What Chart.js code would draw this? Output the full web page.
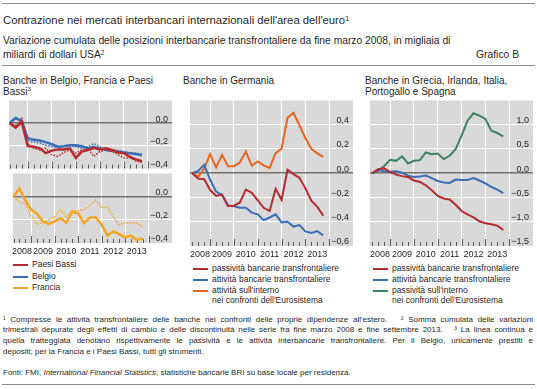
<!DOCTYPE html>
<html lang="it">
<head>
<meta charset="utf-8">
<title>Grafico B</title>
<script src="https://cdn.jsdelivr.net/npm/chart.js@4.4.1/dist/chart.umd.min.js"></script>
<style>
  body { margin: 0; width: 537px; height: 389px; position: relative; overflow: hidden; background: #fff;
         font-family: "Liberation Sans", Arial, sans-serif; color: #1f1f1f; }
  .t { position: absolute; white-space: nowrap; }
  .rule { position: absolute; left: 2px; width: 533px; height: 0; border-top: 1.5px solid #8c8c8c; }
  .sup { font-size: 62%; position: relative; top: -0.5em; }
  canvas { position: absolute; }
  .leg { position: absolute; font-size: 8.5px; line-height: 9.3px; white-space: nowrap; }
  .leg i { position: absolute; left: -19px; top: 4px; width: 15px; height: 2px; }
  .fn { position: absolute; left: 3px; width: 530px; font-size: 8px; line-height: 10.8px; text-align: justify; text-align-last: justify; }
</style>
</head>
<body>
<div class="rule" style="top:3px"></div>
<div class="t" style="left:3px;top:13px;font-size:11.3px;line-height:14px">Contrazione nei mercati interbancari internazionali dell'area dell'euro<span class="sup">1</span></div>
<div class="t" style="left:3px;top:34px;font-size:10.3px;line-height:14px">Variazione cumulata delle posizioni interbancarie transfrontaliere da fine marzo 2008, in migliaia di<br>miliardi di dollari USA<span class="sup">2</span></div>
<div class="t" style="right:18px;top:48px;font-size:10.3px;line-height:14px">Grafico B</div>
<div class="rule" style="top:65px"></div>

<div class="t" style="left:3px;top:74.5px;font-size:10px;line-height:11px">Banche in Belgio, Francia e Paesi<br>Bassi<span class="sup">3</span></div>
<div class="t" style="left:183px;top:74.5px;font-size:10px;line-height:11px">Banche in Germania</div>
<div class="t" style="left:365px;top:74.5px;font-size:10px;line-height:11px">Banche in Grecia, Irlanda, Italia,<br>Portogallo e Spagna</div>

<canvas id="belNl" width="163" height="71" style="left:9px;top:99px"></canvas>
<canvas id="fra" width="163" height="86" style="left:9px;top:172px"></canvas>
<canvas id="ger" width="166" height="162" style="left:187px;top:99px"></canvas>
<canvas id="giips" width="166" height="162" style="left:367px;top:99px"></canvas>

<div class="leg" style="left:32px;top:260.4px"><i style="background:#b32b2f;height:1.5px"></i>Paesi Bassi</div>
<div class="leg" style="left:32px;top:271.7px"><i style="background:#3a6db5"></i>Belgio</div>
<div class="leg" style="left:32px;top:282.9px"><i style="background:#f2a623"></i>Francia</div>

<div class="leg" style="left:212px;top:263.7px"><i style="background:#b32b2f"></i>passività bancarie transfrontaliere</div>
<div class="leg" style="left:212px;top:275px"><i style="background:#3a6db5"></i>attività bancarie transfrontaliere</div>
<div class="leg" style="left:212px;top:286.4px"><i style="background:#e8651d"></i>attività sull'interno<br>nei confronti dell'Eurosistema</div>

<div class="leg" style="left:392px;top:263.7px"><i style="background:#b32b2f"></i>passività bancarie transfrontaliere</div>
<div class="leg" style="left:392px;top:275px"><i style="background:#3a6db5"></i>attività bancarie transfrontaliere</div>
<div class="leg" style="left:392px;top:286.4px"><i style="background:#3f8060"></i>passività sull'interno<br>nei confronti dell'Eurosistema</div>

<div class="fn" style="top:314.6px">¹ Compresse le attività transfrontaliere delle banche nei confronti delle proprie dipendenze all'estero. &nbsp;&nbsp;² Somma cumulata delle variazioni</div>
<div class="fn" style="top:325.4px">trimestrali depurate degli effetti di cambio e delle discontinuità nelle serie fra fine marzo 2008 e fine settembre 2013. &nbsp;&nbsp;³ La linea continua e</div>
<div class="fn" style="top:336.2px">quella tratteggiata denotano rispettivamente le passività e le attività interbancarie transfrontaliere. Per il Belgio, unicamente prestiti e</div>
<div class="fn" style="top:347px;text-align:left;text-align-last:left">depositi; per la Francia e i Paesi Bassi, tutti gli strumenti.</div>
<div class="fn" style="top:368px;text-align:left;text-align-last:left">Fonti: FMI, <i>International Financial Statistics</i>; statistiche bancarie BRI su base locale per residenza.</div>
<div class="rule" style="top:384px"></div>

<script>
// quarter ends, from end of March 2008 to end of September 2013
const quarters = [2008.25, 2008.5, 2008.75, 2009, 2009.25, 2009.5, 2009.75, 2010, 2010.25, 2010.5, 2010.75,
  2011, 2011.25, 2011.5, 2011.75, 2012, 2012.25, 2012.5, 2012.75, 2013, 2013.25, 2013.5, 2013.75];
const years = ['2008', '2009', '2010', '2011', '2012', '2013'];
const yearBounds = [2009, 2010, 2011, 2012, 2013, 2014];

// Belgio, Paesi Bassi (solid = passività, dotted = attività)
const nlLiab = [0, -0.04, 0.01, -0.203, -0.208, -0.222, -0.264, -0.242, -0.231, -0.231, -0.222, -0.306,
  -0.25, -0.236, -0.217, -0.231, -0.222, -0.236, -0.258, -0.264, -0.297, -0.319, -0.335];
const nlAss = [0, -0.02, 0.04, -0.181, -0.222, -0.236, -0.222, -0.278, -0.292, -0.258, -0.236, -0.264,
  -0.236, -0.222, -0.292, -0.25, -0.236, -0.25, -0.278, -0.306, -0.306, -0.333, -0.347];
const beLiab = [0, 0.047, 0.015, -0.133, -0.147, -0.153, -0.167, -0.186, -0.208, -0.203, -0.194, -0.194,
  -0.203, -0.222, -0.208, -0.222, -0.236, -0.242, -0.25, -0.258, -0.264, -0.272, -0.283];
const beAss = [0, 0.04, 0.035, -0.153, -0.167, -0.175, -0.194, -0.208, -0.214, -0.203, -0.194, -0.208,
  -0.222, -0.208, -0.18, -0.208, -0.236, -0.236, -0.242, -0.25, -0.264, -0.264, -0.272];
// Francia
const frLiab = [0, 0.068, -0.03, -0.112, -0.15, -0.214, -0.236, -0.214, -0.186, -0.225, -0.132, -0.145,
  -0.228, -0.181, -0.181, -0.241, -0.337, -0.3, -0.323, -0.351, -0.337, -0.373, -0.36];
const frAss = [0, -0.049, -0.058, -0.173, -0.241, -0.222, -0.2, -0.173, -0.112, -0.173, -0.118, -0.123,
  -0.112, -0.077, -0.03, -0.09, -0.09, -0.173, -0.241, -0.227, -0.227, -0.227, -0.26];
// Germania
const deLiab = [0, -0.045, -0.05, -0.139, -0.188, -0.176, -0.27, -0.268, -0.241, -0.136, -0.162, -0.223,
  -0.285, -0.312, -0.13, -0.219, 0.028, -0.008, -0.038, -0.125, -0.227, -0.278, -0.35];
const deAss = [0, 0.019, 0.069, -0.052, -0.152, -0.179, -0.267, -0.272, -0.285, -0.285, -0.325, -0.339,
  -0.387, -0.365, -0.339, -0.405, -0.4, -0.44, -0.427, -0.48, -0.493, -0.477, -0.512];
const deEuro = [0, -0.03, 0.038, 0.158, 0.048, 0.151, 0.058, 0.058, 0.09, 0.178, 0.061, 0.097,
  0.064, 0.043, 0.165, 0.2, 0.457, 0.497, 0.395, 0.29, 0.2, 0.164, 0.134];
// Grecia, Irlanda, Italia, Portogallo, Spagna
const giLiab = [0, 0.08, 0.1, 0.02, -0.03, -0.06, -0.08, -0.15, -0.18, -0.25, -0.35, -0.47,
  -0.52, -0.54, -0.65, -0.78, -0.85, -0.91, -0.99, -1.03, -1.05, -1.08, -1.17];
const giAss = [0, 0.07, 0.04, 0.03, 0.04, 0.01, -0.05, -0.08, -0.07, -0.05, -0.1, -0.16,
  -0.19, -0.2, -0.13, -0.14, -0.14, -0.1, -0.15, -0.21, -0.28, -0.34, -0.41];
const giEuro = [0, 0.05, 0.15, 0.276, 0.255, 0.345, 0.2, 0.255, 0.269, 0.428, 0.393, 0.407,
  0.29, 0.359, 0.497, 0.772, 1.083, 1.234, 1.186, 1.117, 0.876, 0.828, 0.759];

const red = '#b32b2f', blue = '#3a6db5', gold = '#f2a623', orange = '#e8651d', green = '#3f8060';

Chart.defaults.font.family = '"Liberation Sans", Arial, sans-serif';
Chart.defaults.font.size = 9;
Chart.defaults.color = '#1f1f1f';

function yLabel(v) {
  return v.toFixed(1).replace('.', ',').replace('-', '\u2212');
}

const panelBackground = {
  id: 'panelBackground',
  beforeDraw(chart) {
    const a = chart.chartArea;
    const ctx = chart.ctx;
    ctx.save();
    ctx.fillStyle = '#d9d9d9';
    ctx.fillRect(a.left, a.top, a.right - a.left, a.bottom - a.top);
    ctx.restore();
  }
};

// small quarter ticks standing on the bottom edge, longer ones at year starts
const quarterTicks = {
  id: 'quarterTicks',
  beforeDatasetsDraw(chart) {
    const xs = chart.scales.x;
    const a = chart.chartArea;
    const ctx = chart.ctx;
    ctx.save();
    ctx.strokeStyle = '#5c5c5c';
    ctx.lineWidth = 1;
    quarters.concat([2014]).forEach(function(q) {
      const px = Math.round(xs.getPixelForValue(q)) + 0.5;
      const len = Number.isInteger(q) ? 7 : 4;
      ctx.beginPath();
      ctx.moveTo(px, a.bottom);
      ctx.lineTo(px, a.bottom - len);
      ctx.stroke();
    });
    ctx.restore();
  }
};

function drawPanel(id, series, yMin, yMax, yTicks, xMin, withYears) {
  const canvas = document.getElementById(id);
  return new Chart(canvas, {
    type: 'line',
    data: {
      datasets: series.map(function(s) {
        return {
          data: quarters.map(function(q, i) { return { x: q, y: s.values[i] }; }),
          borderColor: s.color,
          borderWidth: s.width,
          borderDash: s.dash || [],
          pointRadius: 0,
          tension: 0,
          fill: false
        };
      })
    },
    options: {
      responsive: false,
      animation: false,
      events: [],
      layout: { padding: 0 },
      plugins: { legend: { display: false }, tooltip: { enabled: false } },
      scales: {
        x: {
          type: 'linear',
          min: xMin,
          max: 2015,
          border: { display: false },
          afterBuildTicks: function(scale) {
            const ticks = [];
            years.forEach(function(y, i) {
              const start = i === 0 ? xMin : Number(y);
              ticks.push({ value: (start + Number(y) + 1) / 2 });
              ticks.push({ value: yearBounds[i] });
            });
            scale.ticks = ticks;
          },
          afterFit: function(scale) { scale.height = withYears ? 15 : 0; },
          grid: {
            color: function(ctx) { return Number.isInteger(ctx.tick.value) ? '#ffffff' : 'rgba(0,0,0,0)'; },
            lineWidth: 1,
            drawTicks: false
          },
          ticks: {
            display: withYears,
            autoSkip: false,
            maxRotation: 0,
            padding: 3,
            callback: function(v) { return Number.isInteger(v) ? '' : years[Math.floor(v) - 2008]; }
          }
        },
        y: {
          position: 'right',
          min: yMin,
          max: yMax,
          border: { display: false },
          afterBuildTicks: function(scale) { scale.ticks = yTicks.map(function(v) { return { value: v }; }); },
          afterFit: function(scale) { scale.width = 0; },
          grid: {
            color: function(ctx) {
              const v = ctx.tick.value;
              if (v === 0) return '#727272';
              return v === yMin ? 'rgba(0,0,0,0)' : '#ffffff';
            },
            lineWidth: function(ctx) { return ctx.tick.value === 0 ? 1.5 : 1; },
            drawTicks: false
          },
          ticks: { mirror: true, padding: -4, labelOffset: -4, callback: yLabel }
        }
      }
    },
    plugins: [panelBackground, quarterTicks]
  });
}

const dots = [1.5, 1.5];

drawPanel('belNl', [
  { values: nlLiab, color: red, width: 2.5 },
  { values: nlAss, color: red, width: 1.5, dash: dots },
  { values: beLiab, color: blue, width: 2.5 },
  { values: beAss, color: blue, width: 1.5, dash: dots }
], -0.4, 0.2, [-0.4, -0.2, 0], 2008.22, false);

drawPanel('fra', [
  { values: frLiab, color: gold, width: 2.5 },
  { values: frAss, color: gold, width: 1.5, dash: dots }
], -0.4, 0.2, [-0.4, -0.2, 0], 2008.22, true);

drawPanel('ger', [
  { values: deLiab, color: red, width: 2 },
  { values: deAss, color: blue, width: 2 },
  { values: deEuro, color: orange, width: 2 }
], -0.6, 0.6, [-0.6, -0.4, -0.2, 0, 0.2, 0.4], 2008.15, true);

drawPanel('giips', [
  { values: giLiab, color: red, width: 2 },
  { values: giAss, color: blue, width: 2 },
  { values: giEuro, color: green, width: 2 }
], -1.5, 1.5, [-1.5, -1, -0.5, 0, 0.5, 1], 2008.15, true);
</script>
</body>
</html>
